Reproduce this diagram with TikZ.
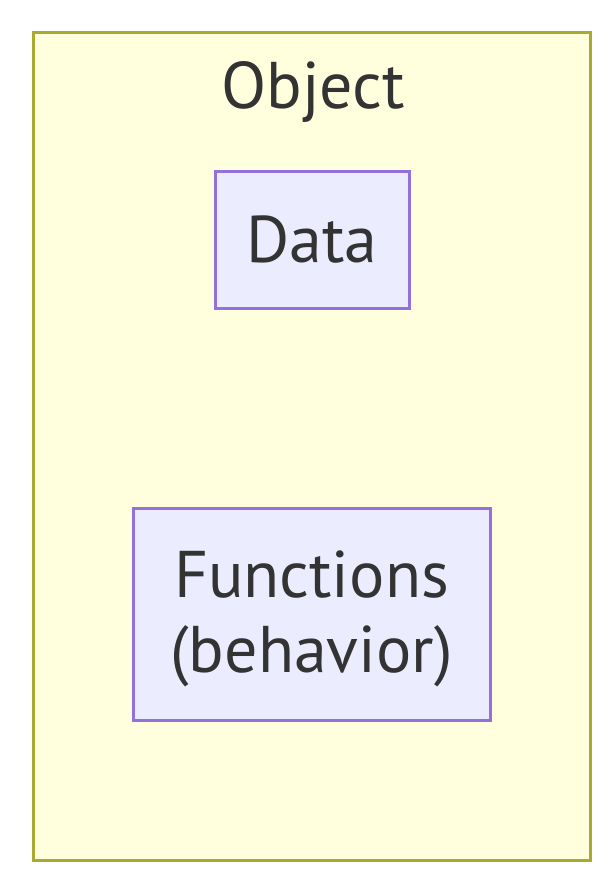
\documentclass[tikz,border=0pt]{standalone}
\usepackage{fontspec}
\setmainfont{PT Sans}
\usetikzlibrary{positioning}
\definecolor{clusterfill}{HTML}{FFFFDE}
\definecolor{clusterline}{HTML}{AAAA33}
\definecolor{boxfill}{HTML}{ECECFF}
\definecolor{boxline}{HTML}{9370DB}
\definecolor{txt}{HTML}{333333}
\tikzset{
  partbox/.style={draw=boxline,fill=boxfill,line width=3pt,align=center,text=txt,inner sep=0pt},
  bigfont/.style={font=\fontsize{66}{75}\selectfont}
}

\begin{document}
\begin{tikzpicture}[x=1pt,y=-1pt,bigfont]
\useasboundingbox (0,0) rectangle (616,892);
\node[draw=clusterline,fill=clusterfill,line width=3pt,minimum width=557pt,minimum height=828pt,inner sep=0pt] (obj) at (311.5,446){};
\node[anchor=base,text=txt] (title) at (313,108){Object};
\node[partbox,minimum width=194pt,minimum height=137pt] (data) at (312,239.5){Data};
\node[partbox,minimum width=357pt,minimum height=212pt,text depth=4pt] (func) at (311.5,614){Functions\\(behavior)};
\end{tikzpicture}
\end{document}
